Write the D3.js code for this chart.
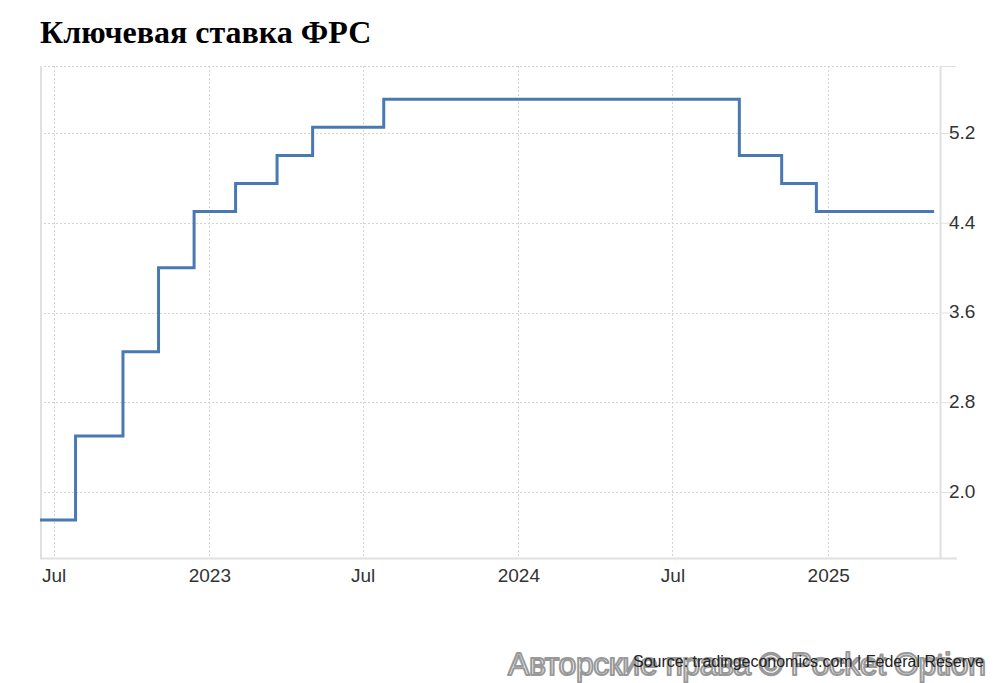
<!DOCTYPE html>
<html>
<head>
<meta charset="utf-8">
<script src="https://cdn.jsdelivr.net/npm/d3@7"></script>
<style>
html,body{margin:0;padding:0;background:#fff;}
svg{display:block;}
</style>
</head>
<body>
<svg id="chart" width="1000" height="683"></svg>
<script>
const title = "Ключевая ставка ФРС";
const stepDates = ["2022-06-15","2022-07-27","2022-09-21","2022-11-02","2022-12-14","2023-02-01","2023-03-22","2023-05-03","2023-07-26","2024-09-18","2024-11-07","2024-12-18","2025-05-06"];
const rates = [1.75,2.5,3.25,4.0,4.5,4.75,5.0,5.25,5.5,5.0,4.75,4.5,4.5];
const yTicks = [2.0,2.8,3.6,4.4,5.2];
const xTickDates = ["2022-07-01","2023-01-01","2023-07-01","2024-01-01","2024-07-01","2025-01-01"];
const xTickLabels = ["Jul","2023","Jul","2024","Jul","2025"];
const sourceText = "Source: tradingeconomics.com | Federal Reserve";
const watermark = "Авторские права © Pocket Option";

(function(){
const parse = d3.utcParse("%Y-%m-%d");
const data = stepDates.map((d,i)=>({date:parse(d), value:rates[i]}));

const svg = d3.select("#chart");
const pL = 40, pR = 940, pT = 66, pB = 558;

const x = d3.scaleUtc()
  .domain([parse("2022-06-15"), parse("2025-05-13")])
  .range([pL, pR]);
const y = d3.scaleLinear()
  .domain([1.412, 5.797])
  .range([pB, pT]);

svg.append("text")
  .attr("x", 40).attr("y", 43)
  .attr("font-family", "'Liberation Serif','Times New Roman',serif")
  .attr("font-weight", "bold")
  .attr("font-size", 32)
  .attr("fill", "#000")
  .text(title);

const grid = svg.append("g");
grid.selectAll("line.hg").data(yTicks.concat([5.797]))
  .join("line")
  .attr("x1", pL).attr("x2", pR)
  .attr("y1", d=>Math.round(y(d))+0.5).attr("y2", d=>Math.round(y(d))+0.5)
  .attr("stroke", "#d4d4d4").attr("stroke-width", 1)
  .attr("stroke-dasharray", "2,2");
grid.selectAll("line.vg").data(xTickDates.map(parse))
  .join("line")
  .attr("x1", d=>Math.round(x(d))+0.5).attr("x2", d=>Math.round(x(d))+0.5)
  .attr("y1", pT).attr("y2", pB)
  .attr("stroke", "#d4d4d4").attr("stroke-width", 1)
  .attr("stroke-dasharray", "2,2");

svg.append("line").attr("x1", pL+1).attr("x2", pL+1).attr("y1", pT).attr("y2", pB)
  .attr("stroke", "#e0e0e0").attr("stroke-width", 2);

const yAxis = d3.axisRight(y).tickValues(yTicks).tickFormat(d3.format(".1f")).tickSize(16);
const ya = svg.append("g").attr("transform", `translate(${pR},0)`).call(yAxis);
ya.select(".domain").remove();
ya.append("line").attr("x1",0.5).attr("x2",0.5).attr("y1",pT).attr("y2",pB).attr("stroke","#e0e0e0").attr("stroke-width",2);
ya.append("line").attr("x1",0).attr("x2",16).attr("y1",pT+0.5).attr("y2",pT+0.5).attr("stroke","#e0e0e0");
ya.selectAll(".tick line").attr("stroke", "#e0e0e0");
ya.selectAll(".tick text")
  .attr("x", 9).attr("dy", "0.28em")
  .attr("font-family", "'Liberation Sans',Arial,sans-serif")
  .attr("font-size", 19).attr("fill", "#333");

svg.append("line").attr("x1", pL).attr("x2", 957).attr("y1", pB+0.5).attr("y2", pB+0.5)
  .attr("stroke", "#e0e0e0").attr("stroke-width", 2);
const xa = svg.append("g").attr("transform", `translate(0,${pB})`)
  .call(d3.axisBottom(x).tickValues(xTickDates.map(parse)).tickFormat((d,i)=>xTickLabels[i]).tickSize(0).tickPadding(11));
xa.select(".domain").remove();
xa.selectAll(".tick text")
  .attr("font-family", "'Liberation Sans',Arial,sans-serif")
  .attr("font-size", 19).attr("fill", "#333");

const line = d3.line().x(d=>x(d.date)).y(d=>y(d.value)).curve(d3.curveStepAfter);
svg.append("path").datum(data)
  .attr("d", line)
  .attr("fill", "none")
  .attr("stroke", "#4a78b2")
  .attr("stroke-width", 3);

svg.append("text")
  .attr("x", 508).attr("y", 675)
  .attr("font-family", "'Liberation Sans',Arial,sans-serif")
  .attr("font-size", 32)
  .attr("textLength", 478).attr("lengthAdjust", "spacing")
  .attr("fill", "#fff").attr("stroke", "#999").attr("stroke-width", 2)
  .attr("stroke-linejoin", "round")
  .text(watermark);

svg.append("text")
  .attr("x", 984).attr("y", 667)
  .attr("text-anchor", "end")
  .attr("font-family", "'Liberation Sans',Arial,sans-serif")
  .attr("font-size", 16).attr("fill", "#222")
  .text(sourceText);
})();
</script>
</body>
</html>
